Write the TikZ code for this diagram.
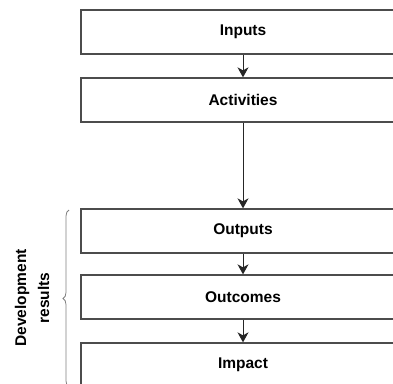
\documentclass[tikz,border=0pt]{standalone}
\usepackage{fontspec}
\setmainfont{Liberation Sans}
\usetikzlibrary{arrows.meta,decorations.pathreplacing}
\begin{document}
\begin{tikzpicture}[x=1pt,y=-1pt,
  stage/.style={draw=black!70,line width=1.3pt,minimum width=324pt,minimum height=44pt,inner sep=0pt,font=\fontsize{15.5}{18}\selectfont\bfseries},
  flow/.style={draw=black!85,line width=0.9pt,-{Stealth[length=10pt,width=11pt,inset=3pt]}}]
\useasboundingbox (0,0) rectangle (393,383);
\clip (0,0) rectangle (393,383);
\node[stage] (in) at (243,32) {Inputs};
\node[stage] (act) at (243,100) {Activities};
\node[stage] (out) at (243,231) {Outputs};
\node[stage] (oc) at (243,297) {Outcomes};
\node[stage] (imp) at (243,365) {Impact};
\draw[flow] (in) -- (act);
\draw[flow] (act) -- (out);
\draw[flow] (out) -- (oc);
\draw[flow] (oc) -- (imp);
\coordinate (bt) at (69,210);
\coordinate (bb) at (69,387);
\draw[black!50,line width=0.8pt,decorate,decoration={brace,amplitude=6pt}] (bb) -- (bt);
\node[rotate=90,align=center,font=\fontsize{15.5}{23}\selectfont\bfseries] (dr) at (32,298) {Development\\results};
\end{tikzpicture}
\end{document}
